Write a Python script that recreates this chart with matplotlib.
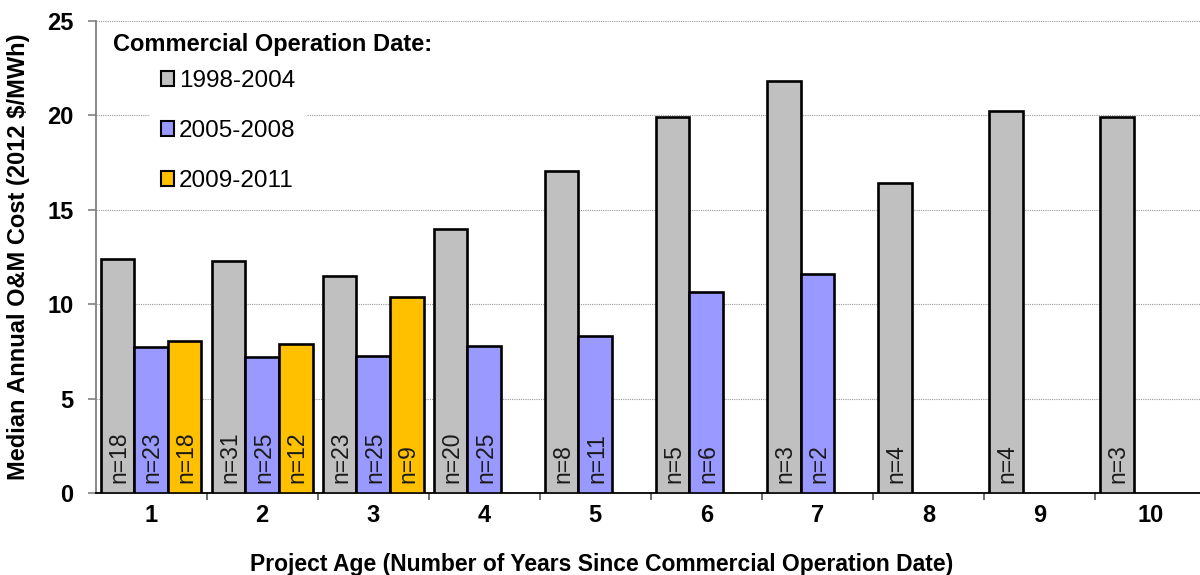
import numpy as np
import matplotlib.pyplot as plt
from matplotlib.patches import Patch

plt.rcParams['font.family'] = ['Liberation Sans', 'DejaVu Sans']

# project age categories
ages = [1, 2, 3, 4, 5, 6, 7, 8, 9, 10]
series = ["1998-2004", "2005-2008", "2009-2011"]
colors = ["#C0C0C0", "#9999FF", "#FFC000"]

# median annual O&M cost (2012 $/MWh); None = no data
cost_9804 = [12.4, 12.28, 11.46, 14.0, 17.05, 19.89, 21.8, 16.43, 20.24, 19.9]
cost_0508 = [7.75, 7.2, 7.26, 7.8, 8.32, 10.65, 11.57, None, None, None]
cost_0911 = [8.07, 7.9, 10.39, None, None, None, None, None, None, None]

# sample counts
n_9804 = [18, 31, 23, 20, 8, 5, 3, 4, 4, 3]
n_0508 = [23, 25, 25, 25, 11, 6, 2, None, None, None]
n_0911 = [18, 12, 9, None, None, None, None, None, None, None]

values = [cost_9804, cost_0508, cost_0911]
counts = [n_9804, n_0508, n_0911]

W, H = 1200, 575
fig = plt.figure(figsize=(12, 5.75), dpi=100)
ax = fig.add_axes([95.5 / W, 82 / H, 1110.5 / W, 472.3 / H])

w = 0.303
for k in range(3):
    for i, age in enumerate(ages):
        v = values[k][i]
        if v is None:
            continue
        x = age + (k - 1) * w
        ax.bar(x, v, width=w, color=colors[k], edgecolor="black",
               linewidth=1.9, zorder=3)
        ax.annotate(f"n={counts[k][i]}", (x, 0), xytext=(1, 7),
                    textcoords="offset points", rotation=90,
                    ha="center", va="bottom", fontsize=16.5, color="#1a1a1a",
                    zorder=4)

ax.set_xlim(0.5, 10.5)
ax.set_ylim(0, 25)
ax.set_yticks([0, 5, 10, 15, 20, 25])
ax.set_xticks(ages)
ax.set_xticks(np.arange(1.5, 10.5, 1), minor=True)
ax.yaxis.grid(True, linestyle=(0, (1, 1)), color="#999999", linewidth=0.8,
              zorder=0)
ax.set_axisbelow(True)

for s in ["top", "right"]:
    ax.spines[s].set_visible(False)
ax.spines["left"].set_color("#808080")
ax.spines["left"].set_linewidth(1.3)
ax.spines["bottom"].set_color("black")
ax.spines["bottom"].set_linewidth(1.3)

ax.tick_params(axis="y", direction="out", length=6, width=1.2,
               color="#808080", pad=10, labelsize=17)
ax.tick_params(axis="x", which="major", length=0, pad=8, labelsize=17)
ax.tick_params(axis="x", which="minor", direction="out", length=5,
               width=1.2, color="#555555")
for lab in ax.get_xticklabels() + ax.get_yticklabels():
    lab.set_fontweight("bold")

ax.set_ylabel("Median Annual O&M Cost (2012 $/MWh)", fontsize=17,
              fontweight="bold", labelpad=12)
fig.text(602 / W, 1 - 564 / H,
         "Project Age (Number of Years Since Commercial Operation Date)",
         ha="center", va="center", fontsize=16.5, fontweight="bold")

# legend
handles = [Patch(facecolor=c, edgecolor="black", linewidth=1.5)
           for c in colors]
leg = ax.legend(handles, series, loc="upper left",
                bbox_to_anchor=(150 / W, 1 - 59 / H),
                bbox_transform=fig.transFigure, borderaxespad=0,
                fontsize=17.5, frameon=True, facecolor="white",
                edgecolor="none", framealpha=1, fancybox=False,
                handlelength=0.55, handleheight=0.55, handletextpad=0.2,
                labelspacing=1.15, borderpad=0.45)
leg.set_zorder(5)
fig.text(113 / W, 1 - 45 / H, "Commercial Operation Date:", ha="left",
         va="center", fontsize=17, fontweight="bold", zorder=10)

fig.savefig("out.png", dpi=100)
